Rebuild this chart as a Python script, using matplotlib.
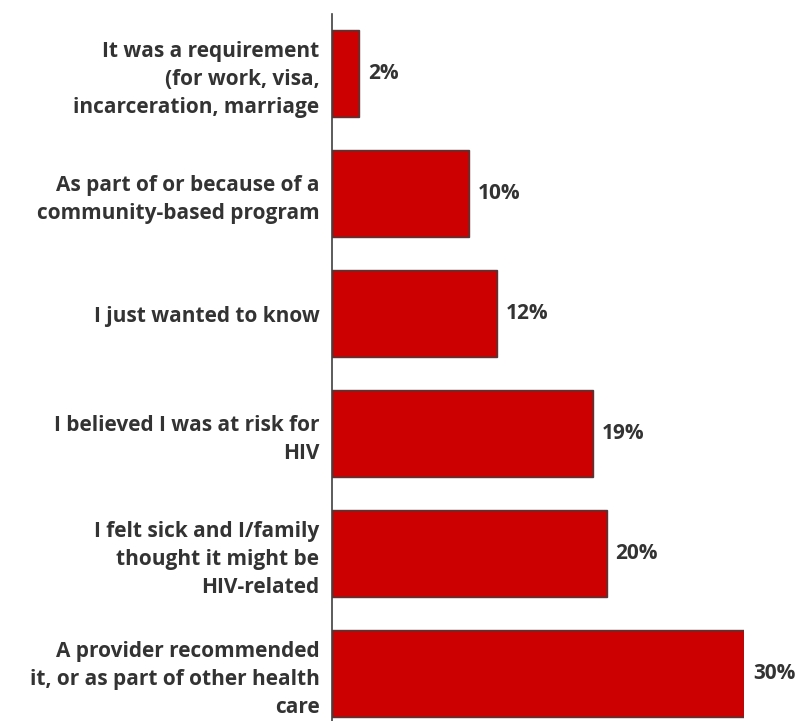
import matplotlib
matplotlib.use("Agg")
import matplotlib.pyplot as plt

categories = [
    "It was a requirement\n(for work, visa,\nincarceration, marriage",
    "As part of or because of a\ncommunity-based program",
    "I just wanted to know",
    "I believed I was at risk for\nHIV",
    "I felt sick and I/family\nthought it might be\nHIV-related",
    "A provider recommended\nit, or as part of other health\ncare",
]
values = [2, 10, 12, 19, 20, 30]

plt.rcParams['font.family'] = ['Open Sans', 'DejaVu Sans']

fig = plt.figure(figsize=(7.98, 7.21), dpi=100)
W, H = 798, 721
left, right, top, bottom = 332, 744, 14, 721
ax = fig.add_axes([left / W, 1 - bottom / H, (right - left) / W, (bottom - top) / H])

pos = list(range(len(values)))
ax.barh(pos, values, height=0.725, color="#CC0000", edgecolor="#404040", linewidth=1.0)
ax.set_xlim(0, 30)
ax.set_ylim(5.396, -0.496)

for p, v in zip(pos, values):
    ax.text(v + 0.65, p, f"{v}%", va="center", ha="left", fontsize=15,
            fontweight="bold", color="#333333", clip_on=False)

ax.set_yticks(pos)
ax.set_yticklabels(categories, fontsize=15, fontweight="bold", color="#333333",
                   linespacing=1.42, ha="right")
ax.tick_params(axis="y", length=0, pad=9)
ax.set_xticks([])
for s in ["top", "right", "bottom"]:
    ax.spines[s].set_visible(False)
ax.spines["left"].set_color("#404040")
ax.spines["left"].set_linewidth(1.2)

fig.savefig("out.png", dpi=100)
